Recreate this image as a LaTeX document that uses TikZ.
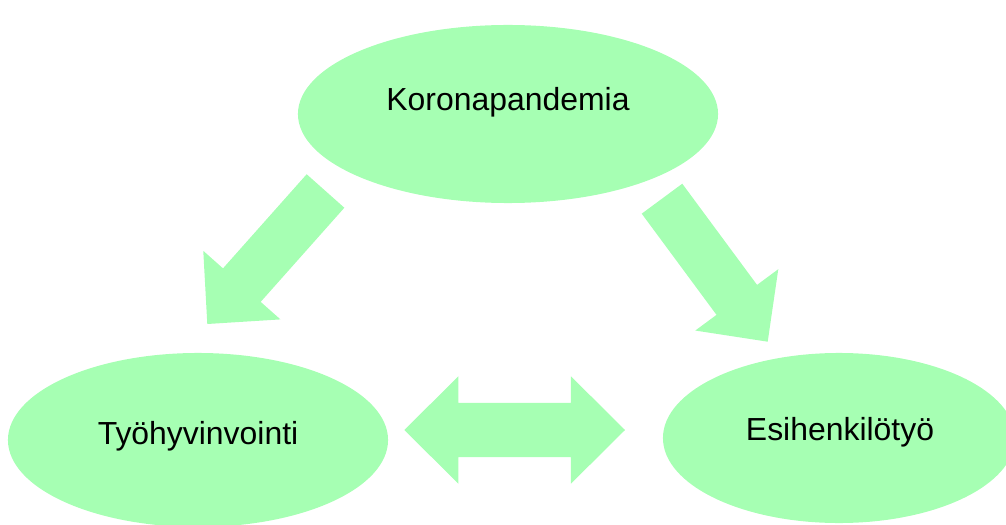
\documentclass[tikz,border=0pt]{standalone}
\usepackage{fontspec}
\setmainfont{Liberation Sans}
\usetikzlibrary{shapes.geometric,calc,positioning}
\definecolor{vihrea}{RGB}{166,255,179}
\newcommand{\blockarrow}[2]{%
  \coordinate (ba) at ($(#2)!1.3cm!(#1)$);
  \fill[vihrea] ($(#1)!0.63cm!90:(#2)$) -- ($(ba)!0.63cm!90:(#2)$) -- ($(ba)!1.29cm!90:(#2)$) -- (#2)
    -- ($(ba)!1.29cm!-90:(#2)$) -- ($(ba)!0.63cm!-90:(#2)$) -- ($(#1)!0.63cm!-90:(#2)$) -- cycle;}
\newcommand{\dblockarrow}[2]{%
  \coordinate (da) at ($(#1)!1.35cm!(#2)$);
  \coordinate (db) at ($(#2)!1.35cm!(#1)$);
  \fill[vihrea] (#1) -- ($(da)!1.34cm!90:(#2)$) -- ($(da)!0.675cm!90:(#2)$) -- ($(db)!0.675cm!-90:(#1)$)
    -- ($(db)!1.34cm!-90:(#1)$) -- (#2) -- ($(db)!1.34cm!90:(#1)$) -- ($(db)!0.675cm!90:(#1)$)
    -- ($(da)!0.675cm!-90:(#2)$) -- ($(da)!1.34cm!-90:(#2)$) -- cycle;}

\begin{document}
\begin{tikzpicture}[x=0.025cm, y=-0.025cm,
    pallo/.style={ellipse, fill=vihrea, inner sep=0pt},
    teksti/.style={inner sep=0pt, font=\fontsize{22.7}{27}\selectfont}]
    \useasboundingbox (0,0) rectangle (1006,525);
    \node[pallo, minimum width=10.5cm, minimum height=4.45cm] (kor) at (508,114) {};
    \node[pallo, minimum width=9.5cm, minimum height=4.35cm] (tyo) at (198,440) {};
    \node[pallo, minimum width=8.8cm, minimum height=4.25cm] (esi) at (839,438) {};
    \node[teksti] (kor-t) at ($(kor)+(0,-12)$) {Koronapandemia};
    \node[teksti] (tyo-t) at ($(tyo)+(0,-4)$) {Työhyvinvointi};
    \node[teksti] (esi-t) at ($(esi)+(1,-6)$) {Esihenkilötyö};
    \coordinate (k1) at (325.5,191);
    \coordinate (t1) at (207.3,324);
    \coordinate (k2) at (662,198.7);
    \coordinate (e1) at (767.7,341.7);
    \coordinate (t2) at (404.3,430);
    \coordinate (e2) at (625,430);
    \blockarrow{k1}{t1}
    \blockarrow{k2}{e1}
    \dblockarrow{t2}{e2}
\end{tikzpicture}
\end{document}
